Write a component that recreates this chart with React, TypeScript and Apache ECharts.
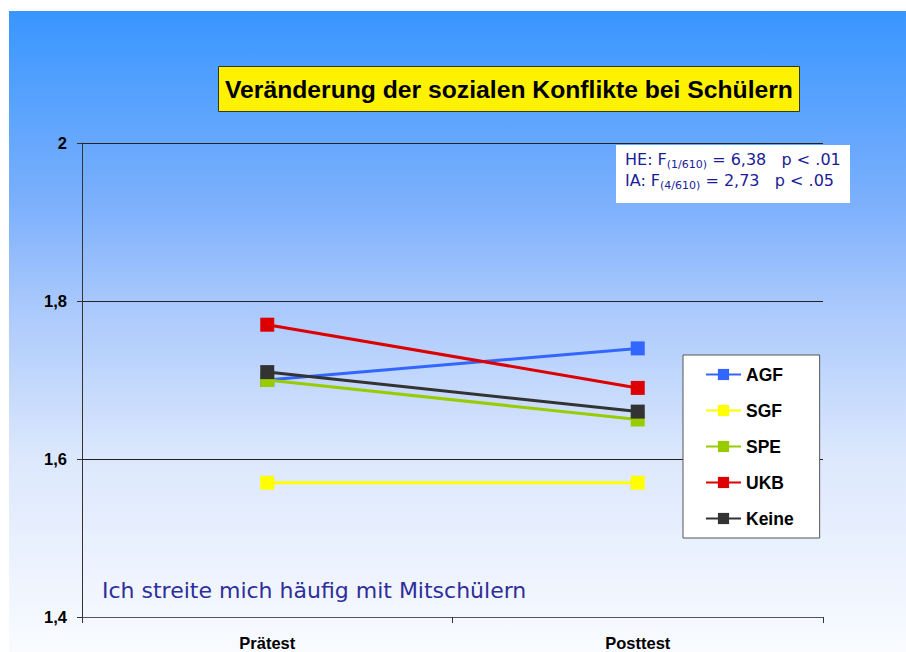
import React, { useEffect, useRef } from "react";
import * as echarts from "echarts";

const categories = ["Prätest", "Posttest"];
const seriesNames = ["AGF", "SGF", "SPE", "UKB", "Keine"];
const agf = [1.70, 1.74];
const sgf = [1.57, 1.57];
const spe = [1.70, 1.65];
const ukb = [1.77, 1.69];
const keine = [1.71, 1.66];
const seriesColors = ["#3366ff", "#ffff00", "#99cc00", "#dd0000", "#333333"];
const yTicks = { min: 1.4, max: 2, interval: 0.2 };
const titleText = "Veränderung der sozialen Konflikte bei Schülern";
const noteText = "Ich streite mich häufig mit Mitschülern";

export default function App() {
  const ref = useRef<HTMLDivElement>(null);
  useEffect(() => {
    if (!ref.current) return;
    const chart = echarts.init(ref.current, null, { renderer: "svg" });
    const values = [agf, sgf, spe, ukb, keine];
    const comic = "'Comic Sans MS', 'DejaVu Sans', sans-serif";
    chart.setOption({
      animation: false,
      title: {
        text: titleText,
        left: 218,
        top: 66,
        padding: [9, 7, 8, 7],
        backgroundColor: "#fff200",
        borderColor: "#333333",
        borderWidth: 1,
        textStyle: {
          fontFamily: "'Liberation Sans', Arial, sans-serif",
          fontWeight: "bold",
          fontSize: 24.7,
          lineHeight: 29,
          color: "#000",
        },
      },
      graphic: [
        {
          type: "rect",
          z: -10,
          silent: true,
          shape: { x: 9, y: 11, width: 897, height: 641 },
          style: {
            fill: new echarts.graphic.LinearGradient(0, 0, 0, 1, [
              { offset: 0, color: "#3896ff" },
              { offset: 0.3, color: "#7cb0fc" },
              { offset: 0.45, color: "#a7c7fc" },
              { offset: 0.7, color: "#dde8fd" },
              { offset: 1, color: "#f9fbff" },
            ]),
          },
        },
        {
          type: "rect",
          z: 5,
          shape: { x: 616, y: 145, width: 234, height: 58 },
          style: { fill: "#ffffff" },
        },
        {
          type: "text",
          z: 6,
          x: 625,
          y: 149,
          style: {
            text: "{a|HE: F}{s|(1/610)}{a| = 6,38   p < .01}\n{a|IA: F}{s|(4/610)}{a| = 2,73   p < .05}",
            rich: {
              a: { fontFamily: comic, fontSize: 16, lineHeight: 21, fill: "#1c1c96" },
              s: { fontFamily: comic, fontSize: 11, lineHeight: 21, fill: "#1c1c96", verticalAlign: "bottom", padding: [8, 0, 0, 0] },
            },
          },
        },
        {
          type: "text",
          z: 6,
          x: 102,
          y: 590,
          style: {
            text: noteText,
            fontFamily: comic,
            fontSize: 22,
            fill: "#2e2e9a",
            verticalAlign: "middle",
          },
        },
      ],
      legend: {
        orient: "vertical",
        left: 683,
        top: 355,
        padding: [10, 26, 10, 22],
        itemGap: 17,
        itemWidth: 35,
        itemHeight: 14,
        backgroundColor: "#ffffff",
        borderColor: "#555555",
        borderWidth: 1,
        data: seriesNames,
        textStyle: {
          fontFamily: "'Liberation Sans', Arial, sans-serif",
          fontWeight: "bold",
          fontSize: 17.5,
          color: "#000",
          lineHeight: 19,
        },
      },
      grid: { left: 82, right: 83, top: 143, bottom: 35 },
      xAxis: {
        type: "category",
        data: categories,
        boundaryGap: true,
        axisLine: { lineStyle: { color: "#555555", width: 1 } },
        axisTick: { show: true, length: 6, lineStyle: { color: "#333" } },
        axisLabel: {
          margin: 17,
          fontFamily: "'Liberation Sans', Arial, sans-serif",
          fontWeight: "bold",
          fontSize: 16.5,
          color: "#000",
        },
      },
      yAxis: {
        type: "value",
        min: yTicks.min,
        max: yTicks.max,
        interval: yTicks.interval,
        axisLine: { show: true, lineStyle: { color: "#333333", width: 1 } },
        axisTick: { show: true, length: 5, lineStyle: { color: "#333" } },
        splitLine: { show: true, lineStyle: { color: "#222222", width: 1 } },
        axisLabel: {
          margin: 15,
          fontFamily: "'Liberation Sans', Arial, sans-serif",
          fontWeight: "bold",
          fontSize: 16.5,
          color: "#000",
          formatter: (v: number) => String(Math.round(v * 10) / 10).replace(".", ","),
        },
      },
      series: seriesNames.map((name, i) => ({
        name,
        type: "line",
        data: values[i],
        color: seriesColors[i],
        symbol: "rect",
        symbolSize: 14,
        lineStyle: { width: 3, color: seriesColors[i] },
        itemStyle: { color: seriesColors[i] },
        z: 2 + i,
      })),
    });
    return () => chart.dispose();
  }, []);
  return (
    <div
      ref={ref}
      style={{ position: "fixed", left: 0, top: 0, width: 906, height: 652, background: "#ffffff" }}
    />
  );
}
